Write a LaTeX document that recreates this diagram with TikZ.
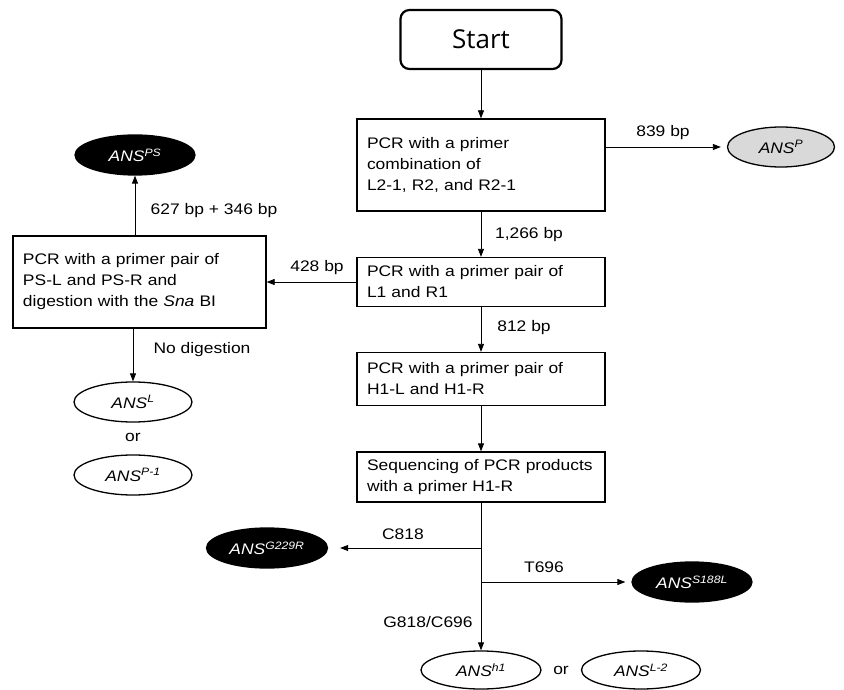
\documentclass[tikz,border=0pt]{standalone}
\usepackage{fontspec}
\setmainfont{Liberation Sans}[FakeStretch=1.14]
\newfontfamily\startfont{Open Sans}
\usetikzlibrary{shapes.geometric,arrows.meta}
\definecolor{lgray}{HTML}{D9D9D9}
\newcommand\boxfont{\fontsize{15.3}{21}\selectfont}
\newcommand\ans[1]{\textit{ANS}\textsuperscript{\textit{#1}}}
\tikzset{
  box/.style={draw, line width=1.3pt, minimum width=248pt, text width=228pt, inner xsep=10pt, align=left, font=\boxfont},
  oval/.style={ellipse, draw, line width=1.3pt, inner sep=0pt, minimum width=120pt, minimum height=40pt, font=\boxfont},
  blackoval/.style={oval, fill=black, text=white},
  arr/.style={-{Triangle[length=8pt,width=6pt]}, line width=0.8pt},
  lbl/.style={font=\boxfont, inner sep=0pt}
}
\begin{document}
\begin{tikzpicture}[x=1pt,y=-1pt]
\useasboundingbox (0,0) rectangle (844,690);
% main column
\node[draw, rounded corners=9pt, line width=2.2pt, minimum width=161pt, minimum height=59pt, font=\startfont\fontsize{26}{30}\selectfont] (start) at (481,39.5) {Start};
\node[box, minimum height=92pt] (b1) at (481,165) {PCR with a primer\\combination of\\L2-1, R2, and R2-1};
\node[box, minimum height=49pt] (b2) at (481,282) {PCR with a primer pair of\\L1 and R1};
\node[box, minimum height=53pt] (b3) at (481,379) {PCR with a primer pair of\\H1-L and H1-R};
\node[box, minimum height=50pt] (b4) at (481,477) {Sequencing of PCR products\\with a primer H1-R};
% left column
\node[box, minimum width=253pt, text width=233pt, minimum height=92pt] (ps) at (139.5,282) {PCR with a primer pair of\\PS-L and PS-R and\\digestion with the \textit{Sna} BI};
% ovals
\node[oval, fill=lgray, minimum width=107pt] (ansP) at (781,147) {\ans{P}};
\node[blackoval] (ansPS) at (135,155) {\ans{PS}};
\node[oval, minimum width=118pt] (ansL) at (133,402) {\ans{L}};
\node[lbl] (or1) at (133,437) {or};
\node[oval, minimum width=118pt] (ansP1) at (133,475) {\ans{P-1}};
\node[blackoval, minimum width=121pt] (ansG) at (267,548) {\ans{G229R}};
\node[blackoval] (ansS) at (692,582) {\ans{S188L}};
\node[oval, minimum height=38pt] (ansH) at (481,670) {\ans{h1}};
\node[lbl] (or2) at (561,670) {or};
\node[oval, minimum width=119pt, minimum height=38pt] (ansL2) at (641,670) {\ans{L-2}};
% branch points
\coordinate (c1) at (481,548);
\coordinate (c2) at (481,582);
% connectors
\draw[arr] (start) -- (b1);
\draw[arr] ([yshift=18pt]b1.east) -- ([xshift=-6pt]ansP.west);
\draw[arr] (b1) -- (b2);
\draw[arr] (b2.west) -- (b2.west -| ps.east);
\draw[arr] (b2) -- (b3);
\draw[arr] (b3) -- (b4);
\draw[arr] (ansPS.south |- ps.north) -- (ansPS.south);
\draw[arr] (ansL.north |- ps.south) -- (ansL.north);
\draw[arr] (b4.south) -- (ansH.north);
\draw[arr, shorten >=12pt] (c1) -- (ansG.east);
\draw[arr, shorten >=6pt] (c2) -- (ansS.west);
% labels
\node[lbl] (l839) at (663,133) {839 bp};
\node[lbl] (l1266) at (529,235) {1,266 bp};
\node[lbl] (l812) at (524,328) {812 bp};
\node[lbl] (l428) at (317,268) {428 bp};
\node[lbl] (l627) at (214,211) {627 bp + 346 bp};
\node[lbl] (lnod) at (202,350) {No digestion};
\node[lbl] (lc818) at (403,534) {C818};
\node[lbl] (lt696) at (544,567) {T696};
\node[lbl] (lg818) at (428,622) {G818/C696};
\end{tikzpicture}
\end{document}
